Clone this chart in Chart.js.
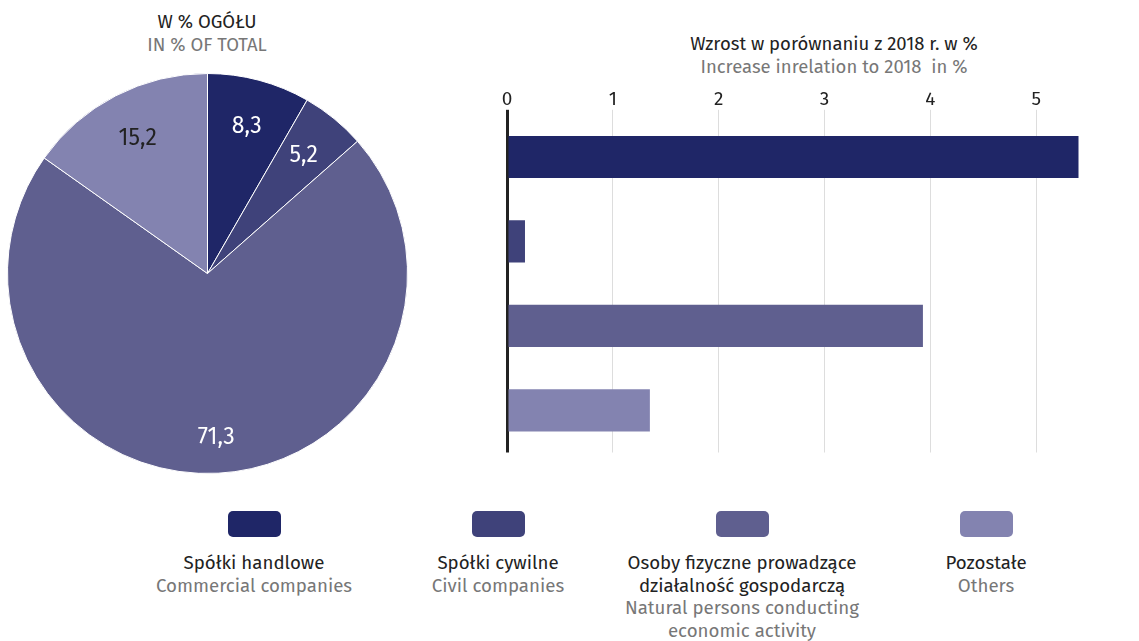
<!DOCTYPE html>
<html>
<head>
<meta charset="utf-8">
<script src="https://cdn.jsdelivr.net/npm/chart.js@4/dist/chart.umd.min.js"></script>
<style>
  body { margin: 0; width: 1139px; height: 641px; background: #fff; overflow: hidden; position: relative; font-family: "Fira Sans", "Open Sans", sans-serif; }
  .title { position: absolute; text-align: center; font-size: 18.5px; line-height: 22.5px; color: #222; }
  .title .en { color: #777; }
  #pieBox { position: absolute; left: 7px; top: 73px; width: 401px; height: 401px; }
  #barBox { position: absolute; left: 470px; top: 88.5px; width: 672px; height: 367.5px; }
  .leg { position: absolute; top: 511px; width: 244px; text-align: center; font-size: 18.7px; line-height: 22.5px; color: #222; }
  .leg .sw { width: 53px; height: 26px; border-radius: 5px; margin: 0 auto 15px auto; }
  .leg .en { color: #777; }
</style>
</head>
<body>
<div class="title" style="left:57px; top:11px; width:300px;">W % OGÓŁU<br><span class="en">IN % OF TOTAL</span></div>
<div class="title" style="left:634px; top:33px; width:400px;">Wzrost w porównaniu z 2018 r. w %<br><span class="en">Increase inrelation to 2018&nbsp; in %</span></div>
<div id="pieBox"><canvas id="pieChart"></canvas></div>
<div id="barBox"><canvas id="barChart"></canvas></div>
<div id="legend"></div>
<script>
// kategorie i dane
const categories = ['Spółki handlowe', 'Spółki cywilne', 'Osoby fizyczne prowadzące<br>działalność gospodarczą', 'Pozostałe'];
const categoriesEn = ['Commercial companies', 'Civil companies', 'Natural persons conducting<br>economic activity', 'Others'];
const shareValues = [8.3, 5.2, 71.3, 15.2];
const growthValues = [5.4, 0.17, 3.93, 1.35];
const colors = ['#1f2667', '#3f427a', '#5f5f8f', '#8383b0'];
const pieLabelColors = ['#ffffff', '#ffffff', '#ffffff', '#222222'];
const xTicks = [0, 1, 2, 3, 4, 5, 6];

// legenda pod wykresami
let legendHtml = '';
for (let i = 0; i < categories.length; i++) {
  legendHtml += '<div class="leg" style="left:' + (132 + i * 244) + 'px">' +
    '<div class="sw" style="background:' + colors[i] + '"></div>' +
    categories[i] + '<br><span class="en">' + categoriesEn[i] + '</span></div>';
}
document.getElementById('legend').innerHTML = legendHtml;

// etykiety na wycinkach
const pieLabels = {
  id: 'pieLabels',
  afterDatasetsDraw(chart) {
    const ctx = chart.ctx;
    const meta = chart.getDatasetMeta(0);
    ctx.save();
    ctx.font = '23px "Fira Sans", "Open Sans", sans-serif';
    ctx.textAlign = 'center';
    ctx.textBaseline = 'middle';
    meta.data.forEach((arc, i) => {
      const p = arc.getProps(['x', 'y', 'startAngle', 'endAngle', 'outerRadius'], true);
      const mid = (p.startAngle + p.endAngle) / 2;
      const r = p.outerRadius * (shareValues[i] > 50 ? 0.82 : 0.76);
      ctx.fillStyle = pieLabelColors[i];
      ctx.fillText(String(shareValues[i]).replace('.', ','), p.x + Math.cos(mid) * r, p.y + Math.sin(mid) * r);
    });
    ctx.restore();
  }
};

new Chart('pieChart', {
  type: 'pie',
  data: {
    labels: categories,
    datasets: [{ data: shareValues, backgroundColor: colors, borderColor: '#ffffff', borderWidth: 1 }]
  },
  options: {
    responsive: true,
    maintainAspectRatio: false,
    animation: false,
    plugins: { legend: { display: false }, tooltip: { enabled: false } }
  },
  plugins: [pieLabels]
});

new Chart('barChart', {
  type: 'bar',
  data: {
    labels: categories,
    datasets: [{ data: growthValues, backgroundColor: colors, barPercentage: 0.5, categoryPercentage: 1 }]
  },
  options: {
    indexAxis: 'y',
    responsive: true,
    maintainAspectRatio: false,
    animation: false,
    layout: { padding: { left: 37, right: 0, top: 0, bottom: 4 } },
    plugins: { legend: { display: false }, tooltip: { enabled: false } },
    scales: {
      x: {
        position: 'top',
        min: 0,
        max: 6,
        afterBuildTicks: (axis) => { axis.ticks = xTicks.map(v => ({ value: v })); },
        border: { display: false },
        grid: {
          color: (c) => c.tick && c.tick.value === 0 ? '#222222' : '#dddddd',
          lineWidth: (c) => c.tick && c.tick.value === 0 ? 3 : 1,
          tickLength: 5
        },
        ticks: {
          color: '#222',
          font: { size: 19, family: '"Fira Sans", "Open Sans", sans-serif' },
          padding: -1,
          maxRotation: 0,
          callback: (v) => v === 6 ? '' : String(v)
        }
      },
      y: { display: false }
    }
  }
});
</script>
</body>
</html>
